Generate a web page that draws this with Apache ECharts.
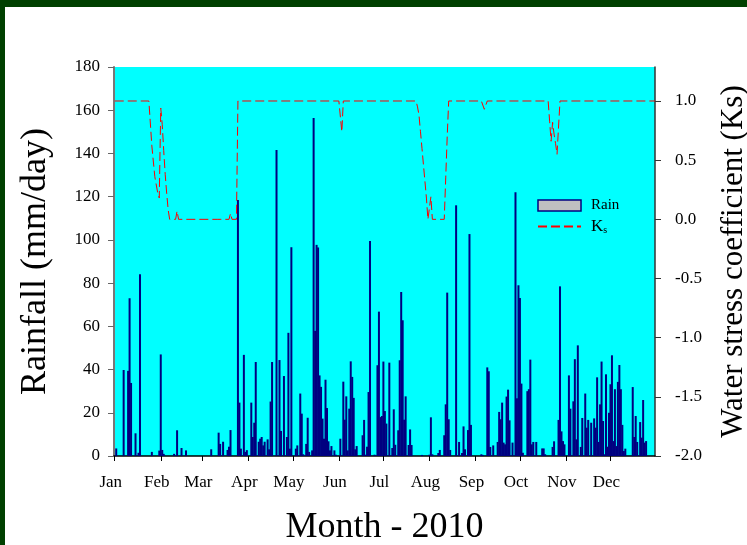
<!DOCTYPE html>
<html>
<head>
<meta charset="utf-8">
<title>Rainfall and water stress coefficient, 2010</title>
<script src="https://cdn.jsdelivr.net/npm/echarts@6.0.0/dist/echarts.min.js"></script>
<style>
  html, body { margin: 0; padding: 0; background: #ffffff; }
  #chart { width: 747px; height: 545px; }
</style>
</head>
<body>
<div id="chart"></div>
<script>
// Month starts as day of year (2010) and their labels
const monthStarts = [1, 32, 60, 91, 121, 152, 182, 213, 244, 274, 305, 335];
const monthNames = ['Jan', 'Feb', 'Mar', 'Apr', 'May', 'Jun', 'Jul', 'Aug', 'Sep', 'Oct', 'Nov', 'Dec'];

// Right axis tick values (water stress coefficient)
const ksTicks = [-2.0, -1.5, -1.0, -0.5, 0.0, 0.5, 1.0];

// Daily rainfall: day of year and amount (mm/day), rainy days only
const rainDays = [
  2, 7, 10, 11, 12, 15, 17, 18, 26, 31, 32, 33, 34, 41, 43, 46, 49, 66, 71, 72,
  74, 77, 78, 79, 84, 85, 86, 88, 89, 90, 93, 94, 95, 96, 98, 99, 100, 101, 102, 104,
  105, 106, 107, 110, 112, 113, 115, 117, 118, 119, 120, 123, 124, 126, 127, 128, 130, 131, 132, 134,
  135, 136, 137, 138, 139, 140, 141, 142, 143, 144, 145, 146, 147, 149, 150, 153, 155, 156, 157, 158,
  159, 160, 161, 162, 163, 164, 168, 169, 170, 171, 172, 173, 176, 178, 179, 180, 181, 182, 183, 184,
  186, 188, 189, 190, 192, 193, 194, 195, 196, 197, 199, 200, 201, 208, 213, 214, 215, 219, 220, 223,
  224, 225, 226, 227, 231, 233, 235, 236, 237, 239, 240, 241, 248, 249, 252, 253, 254, 256, 259, 260,
  261, 262, 263, 264, 265, 266, 267, 269, 271, 272, 273, 274, 275, 276, 279, 280, 281, 282, 283, 285,
  289, 290, 291, 296, 297, 300, 301, 302, 303, 304, 307, 308, 310, 311, 312, 313, 315, 316, 318, 319,
  320, 322, 324, 325, 326, 327, 328, 329, 330, 331, 332, 333, 334, 335, 336, 337, 338, 339, 340, 341,
  342, 343, 344, 345, 350, 351, 352, 353, 355, 356, 357, 358, 359
];
const rainMm = [
  3.5, 39.8, 39.4, 73, 33.8, 10.5, 1.5, 84.1, 1.9, 2.5, 47, 2.8, 1, 1, 11.9, 3.7, 2.6, 3.1, 10.8, 5.6,
  6.6, 2.8, 4.3, 12, 118.5, 24.7, 3.4, 46.8, 1.9, 2.7, 24.7, 8.8, 15.4, 43.5, 6.6, 8, 8.8, 4.9, 6.6, 7.7,
  3.1, 25.2, 43.5, 141.6, 44.4, 11.6, 37, 8.8, 57, 3.4, 96.6, 3.4, 4.9, 28.9, 19.6, 0.8, 5.6, 17.7, 1.9, 2.6,
  156.4, 57.9, 97.7, 96.5, 37.3, 32, 17.3, 8, 35.3, 22.2, 6.8, 2.6, 4.6, 2.6, 0.6, 8, 34.4, 16.8, 27.6, 2.6,
  21.9, 43.8, 36.6, 26.9, 3.1, 4.6, 9.6, 16.7, 0.6, 4.3, 29.6, 99.5, 0.6, 42, 66.8, 18, 18.5, 43.7, 20.8, 15,
  43.2, 3.7, 21.6, 5.2, 11.9, 44.3, 75.9, 62.8, 16.8, 27.6, 5.1, 12.3, 5.1, 0.5, 0.6, 17.9, 0.8, 1.4, 2.8, 9.6,
  23.9, 75.6, 17, 2.8, 116, 6.5, 1.4, 13.7, 3.1, 12, 102.7, 14.4, 0.8, 0.5, 41, 39.2, 4.2, 4.9, 6.5, 20.4,
  17, 24.7, 6.2, 5.4, 27.5, 30.7, 16.5, 6.2, 122, 26.7, 79, 73.1, 33.5, 1.5, 30, 30.9, 44.6, 5.4, 6.5, 6.5,
  3.5, 3.5, 0.8, 4.2, 6.8, 16.7, 78.5, 11.4, 6.9, 5.4, 37.3, 21.9, 25.3, 44.8, 7.7, 51.2, 4.2, 17.6, 28.9, 13.1,
  16.7, 15.4, 17.4, 13.1, 36.4, 6.5, 23.9, 43.7, 16.2, 0.8, 37.8, 4.3, 20, 33.2, 46.6, 6.9, 30.9, 4.6, 34.3, 42.1,
  30.9, 14.4, 2.3, 3.4, 31.9, 8.8, 18.5, 6.5, 15.7, 8.5, 25.9, 6.2, 6.9
];

// Water stress coefficient Ks: day of year where it changes, and its value
const ksDays = [
  1, 24, 26, 28, 30, 31, 32, 33, 34, 35, 36, 37, 38, 42, 43, 44, 70, 71, 72, 78,
  79, 80, 83, 84, 152, 154, 155, 204, 205, 206, 207, 208, 209, 210, 211, 212, 213, 214, 215, 223,
  224, 225, 226, 248, 250, 252, 293, 294, 295, 296, 297, 298, 299, 300, 301, 365
];
const ksValues = [
  1.0, 1.0, 0.62, 0.36, 0.22, 0.18, 0.94, 0.8, 0.58, 0.38, 0.22, 0.08, 0.0, 0.0, 0.07, 0.0, 0.0, 0.015, 0.0, 0.0,
  0.05, 0.0, 0.0, 1.0, 1.0, 0.74, 1.0, 1.0, 0.95, 0.88, 0.74, 0.6, 0.46, 0.32, 0.18, 0.0, 0.0, 0.19, 0.0, 0.0,
  0.35, 0.7, 1.0, 1.0, 0.93, 1.0, 1.0, 0.83, 0.66, 0.82, 0.72, 0.64, 0.55, 0.78, 1.0, 1.0
];

const serif = 'Liberation Serif, Times New Roman, serif';

const chart = echarts.init(document.getElementById('chart'), null, { renderer: 'canvas' });

chart.setOption({
  animation: false,
  backgroundColor: '#ffffff',
  textStyle: { fontFamily: serif, color: '#000' },
  graphic: [
    { type: 'rect', left: 0, top: 0, shape: { width: 747, height: 7 }, style: { fill: '#004000' }, z: 100 },
    { type: 'rect', left: 0, top: 0, shape: { width: 5, height: 545 }, style: { fill: '#004000' }, z: 100 }
  ],
  grid: {
    left: 114, right: 92, top: 67, bottom: 89,
    outerBoundsMode: 'none',
    containLabel: false,
    show: true, backgroundColor: '#00ffff', borderWidth: 0
  },
  legend: {
    orient: 'vertical',
    left: 532, top: 193,
    itemWidth: 43, itemHeight: 11, itemGap: 1,
    selectedMode: false,
    data: [
      { name: 'Rain', icon: 'rect', itemStyle: { color: '#c0c0c0', borderColor: '#000080', borderWidth: 1.5 } },
      { name: 'Ks', itemStyle: { opacity: 0 } }
    ],
    formatter: function (name) {
      return name === 'Ks' ? '{k|K}{s|s}' : name;
    },
    textStyle: {
      fontFamily: serif, fontSize: 15, color: '#000', padding: [0, 0, 0, 5],
      rich: {
        k: { fontFamily: serif, fontSize: 17, lineHeight: 17, verticalAlign: 'top', color: '#000' },
        s: { fontFamily: serif, fontSize: 10, lineHeight: 10, verticalAlign: 'bottom', padding: [11, 0, 0, 0], color: '#000' }
      }
    }
  },
  xAxis: {
    type: 'value',
    min: 0.5, max: 365,
    axisLine: { show: true, onZero: false, lineStyle: { color: '#000', width: 1.5 } },
    axisTick: { show: true, customValues: monthStarts, length: 5, lineStyle: { color: '#000' } },
    axisLabel: {
      customValues: monthStarts,
      formatter: function (v) { return monthNames[monthStarts.indexOf(v)]; },
      fontFamily: serif, fontSize: 17, color: '#000', margin: 18, padding: [0, 8, 0, 0]
    },
    splitLine: { show: false },
    name: 'Month - 2010',
    nameLocation: 'middle',
    nameGap: 54,
    nameTextStyle: { fontFamily: serif, fontSize: 36, color: '#000' }
  },
  yAxis: [
    {
      type: 'value', position: 'left',
      min: 0, max: 180, interval: 20,
      axisLine: { show: true, lineStyle: { color: '#777', width: 2 } },
      axisTick: { show: true, length: 6, lineStyle: { color: '#666' } },
      axisLabel: { fontFamily: serif, fontSize: 17, color: '#000', margin: 14 },
      splitLine: { show: false },
      name: 'Rainfall (mm/day)',
      nameLocation: 'middle', nameRotate: 90, nameGap: 60,
      nameTextStyle: { fontFamily: serif, fontSize: 36, color: '#000' }
    },
    {
      type: 'value', position: 'right',
      min: -2, max: 1.2873,
      axisLine: { show: true, lineStyle: { color: '#333', width: 1.5 } },
      axisTick: { show: true, customValues: ksTicks, length: 6, lineStyle: { color: '#333' } },
      axisLabel: {
        customValues: ksTicks,
        formatter: function (v) { return v.toFixed(1); },
        fontFamily: serif, fontSize: 17, color: '#000', margin: 20
      },
      splitLine: { show: false },
      name: 'Water stress coefficient (Ks)',
      nameLocation: 'middle', nameRotate: 90, nameGap: 63,
      nameTextStyle: { fontFamily: serif, fontSize: 31, color: '#000' }
    }
  ],
  series: [
    {
      name: 'Rain',
      type: 'bar',
      yAxisIndex: 0,
      barWidth: 2,
      itemStyle: { color: '#000080' },
      data: rainDays.map(function (d, i) { return [d, rainMm[i]]; }),
      z: 2
    },
    {
      name: 'Ks',
      type: 'line',
      yAxisIndex: 1,
      symbol: 'none',
      lineStyle: { color: '#ff0000', width: 1, type: [9, 4] },
      data: ksDays.map(function (d, i) { return [d, ksValues[i]]; }),
      z: 3
    }
  ]
});
</script>
</body>
</html>
